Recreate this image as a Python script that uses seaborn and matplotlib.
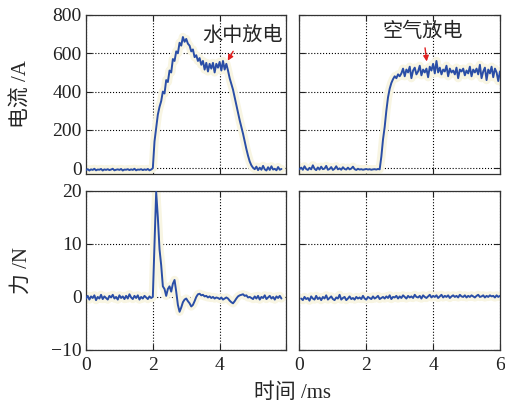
import numpy as np
import seaborn as sns
import matplotlib.pyplot as plt

# sample step (ms)
dt = 0.05

# water discharge current (A), t = 0 .. 5.85 ms
water_current = [
    -10, -5, -12, -6, -9, -3, -11, -7, -8, -4,
    -12, -6, -9, -5, -10, -7, -3, -11, -8, -6,
    -9, -4, -12, -7, -8, -5, -10, -6, -9, -3,
    -11, -7, -8, -5, -10, -6, -9, -4, -11, -7,
    0, 140, 210, 280, 320, 350, 400, 390, 460, 450,
    510, 500, 570, 560, 610, 600, 655, 640, 685, 660,
    675, 650, 640, 610, 620, 580, 590, 560, 575, 540,
    560, 515, 550, 505, 545, 520, 550, 500, 545, 525,
    555, 510, 560, 515, 545,
    510, 470, 440, 410, 370, 330, 290, 250, 215, 180,
    140, 100, 65, 35, 15, 2,
    -5, 8, -10, 3, -8, 12, -6, -12, 5, -9,
    10, -7, -3, -11, 6, -8, -4,
]

# air discharge current (A), t = 0 .. 6.0 ms
air_current = [
    -5, 3, -8, 10, -4, -9, 2, -6, 15, -3,
    -10, 4, -7, 8, -5, -2, 12, -8, -4, 6,
    -9, -3, 10, -6, -1, -8, 5, -4, -7, 3,
    -6, -2, 8, -5, -9, -3, -7, -5, -8, -6,
    -4, -7, -5, -8, -6, -5, -7, -4, -6,
    60, 150, 215, 300, 370, 415, 445, 465, 480, 470,
    490, 480,
    495, 520, 480, 515, 500, 530, 470, 510, 525, 490,
    505, 535, 485, 515, 500, 520, 475, 530, 510, 545,
    495, 560, 500, 525, 490, 515, 505, 535, 480, 520,
    500, 510, 490, 525, 470, 515, 505, 520, 485, 510,
    495, 530, 480, 515, 500, 520, 490, 540, 470, 505,
    525, 460, 515, 495, 530, 475, 520, 500, 455, 505,
]

# water discharge force (N), t = 0 .. 5.85 ms
water_force = [
    -0.3, 0.2, -0.5, 0.1, -0.2, 0.3, -0.6, 0.0, -0.3, 0.4,
    -0.4, 0.1, -0.2, -0.5, 0.2, -0.1, 0.4, -0.3, 0.0, -0.5,
    0.3, -0.2, 0.1, -0.4, 0.2, -0.3, 0.5, -0.1, -0.4, 0.2,
    -0.2, 0.3, -0.5, 0.0, -0.3, 0.2, -0.1, -0.4, 0.1, -0.2,
    0.0, 10.0, 19.8, 15.0, 9.0, 6.0, 2.0, 1.5, 0.2, 1.5,
    2.0, 1.0, 2.5, 3.2, 1.0, -1.5, -2.8, -2.0, -1.0, -0.5,
    -0.3, -0.8, -1.2, -1.8, -1.5, -0.8, 0.0, 0.5, 0.6, 0.3,
    0.4, 0.1, 0.2, -0.1, 0.1, -0.2, 0.0, -0.3, -0.1, -0.2,
    -0.4, -0.1, -0.5, -0.3, -0.1, -0.3, -0.7, -1.0, -1.2, -0.8,
    -0.3, 0.1, 0.3, 0.4, 0.5, 0.2, 0.3, -0.1, 0.0, -0.2,
    -0.4, 0.1, -0.3, 0.2, -0.5, 0.0, -0.2, 0.3, -0.4, -0.1,
    0.2, -0.3, 0.0, -0.5, 0.1, -0.2, 0.2, -0.3,
]

# air discharge force (N), t = 0.05 .. 6.0 ms
air_force = [
    -0.3, -0.6, 0.0, -0.4, -0.2, -0.7, 0.1, -0.3, -0.5, 0.2,
    -0.4, -0.1, -0.6, 0.0, -0.3, 0.3, -0.5, -0.2, 0.1, -0.4,
    -0.6, -0.1, -0.3, 0.4, -0.5, -0.2, 0.0, -0.6, -0.3, 0.1,
    -0.4, -0.2, -0.5, 0.0, -0.3, -0.1, -0.4, 0.2, -0.3, -0.5,
    0.0, -0.2, -0.4, 0.1, -0.3, -0.1, 0.2, -0.4, -0.2, 0.0,
    -0.3, 0.1, -0.2, 0.3, -0.4, 0.0, -0.1, 0.2, -0.3, 0.1,
    -0.2, 0.3, 0.0, -0.3, 0.2, -0.1, 0.1, -0.2, 0.4, 0.0,
    -0.1, 0.2, -0.3, 0.3, 0.0, -0.2, 0.1, 0.4, -0.1, 0.2,
    0.0, 0.3, -0.2, 0.1, 0.4, -0.1, 0.2, 0.0, 0.3, -0.2,
    0.1, 0.3, 0.0, 0.2, -0.1, 0.4, 0.1, 0.0, 0.3, -0.1,
    0.2, 0.0, 0.3, 0.1, -0.1, 0.2, 0.4, 0.0, 0.1, 0.3,
    -0.1, 0.2, 0.0, 0.3, 0.1, 0.2, -0.1, 0.3, 0.0, 0.2,
]

t_water = np.arange(len(water_current)) * dt
t_air = np.arange(len(air_current)) * dt
t_air_force = (np.arange(len(air_force)) + 1) * dt

x_ticks = [0, 2, 4, 6]
current_ticks = [0, 200, 400, 600, 800]
force_ticks = [-10, 0, 10, 20]

sns.set_style("ticks")
plt.rcParams['font.family'] = ['Liberation Serif', 'Noto Sans CJK SC']
plt.rcParams['axes.unicode_minus'] = True

line_color = '#2a4ea6'
halo_color = '#f8f5e2'

fig, axes = plt.subplots(2, 2, figsize=(5.06, 4.05), dpi=100)
fig.subplots_adjust(left=0.170, right=0.988, top=0.963, bottom=0.136,
                    wspace=0.065, hspace=0.107)

panels = [
    (axes[0, 0], t_water, water_current),
    (axes[0, 1], t_air, air_current),
    (axes[1, 0], t_water, water_force),
    (axes[1, 1], t_air_force, air_force),
]
for ax, x, y in panels:
    sns.lineplot(x=x, y=y, ax=ax, color=halo_color, linewidth=6, zorder=1)
    sns.lineplot(x=x, y=y, ax=ax, color=line_color, linewidth=1.4, zorder=3)
    ax.set_xlim(0, 6)
    ax.set_xticks(x_ticks)
    ax.grid(True, linestyle=':', color='k', linewidth=0.8, zorder=2)
    ax.tick_params(direction='in', length=4, width=0.8, top=True, right=True,
                   labelsize=14, colors='#222222', pad=3)
    ax.tick_params(axis='x', pad=5)
    for s in ax.spines.values():
        s.set_color('#333333')
        s.set_linewidth(0.9)

for ax in axes[0]:
    ax.set_ylim(-30, 800)
    ax.set_yticks(current_ticks)
    ax.set_xticklabels([])
for ax in axes[1]:
    ax.set_ylim(-10, 20)
    ax.set_yticks(force_ticks)
for ax in axes[:, 1]:
    ax.set_yticklabels([])

axes[1, 0].set_xticklabels(['0', '2', '4', ''])
axes[1, 1].set_xticklabels(['0', '2', '4', '6'])

axes[0, 0].set_ylabel('电流 /A', fontsize=15)
axes[1, 0].set_ylabel('力 /N', fontsize=15)
for ax in axes[:, 0]:
    ax.yaxis.set_label_coords(-0.27, 0.5)
fig.text(0.579, 0.005, '时间 /ms', fontsize=15, ha='center', va='bottom')

arrow = dict(arrowstyle='-|>', color='#e02020', lw=1.0, mutation_scale=8)
axes[0, 0].annotate('水中放电', xy=(4.2, 549), xytext=(4.67, 690),
                    fontsize=14.5, ha='center', va='center', arrowprops=arrow,
                    zorder=5)
axes[0, 1].annotate('空气放电', xy=(3.82, 543), xytext=(3.7, 710),
                    fontsize=14.5, ha='center', va='center', arrowprops=arrow,
                    zorder=5)

fig.savefig('out.png', dpi=100)
